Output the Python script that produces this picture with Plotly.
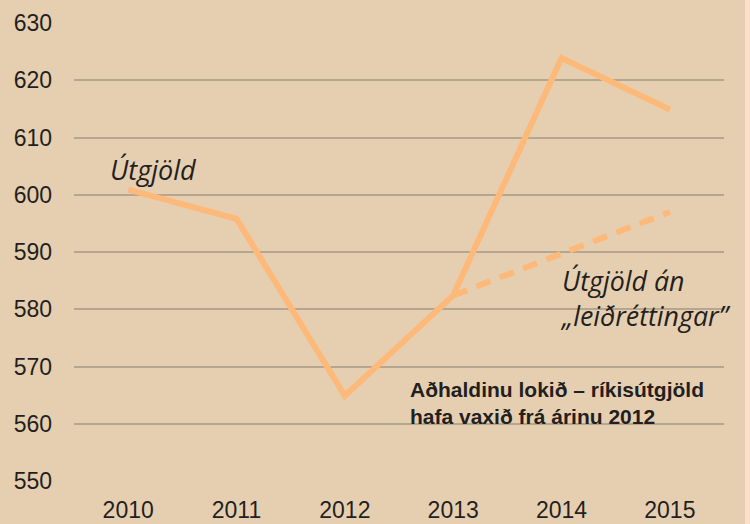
import plotly.graph_objects as go

years = [2010, 2011, 2012, 2013, 2014, 2015]
utgjold = [600.9, 595.8, 564.9, 582.4, 623.9, 614.9]
dash_years = [2013, 2014, 2015]
utgjold_an = [582.4, 589.7, 597.0]
y_ticks = [550, 560, 570, 580, 590, 600, 610, 620, 630]

BG = "#E6CFB1"
STRIP = "#FBDFC9"
LINE = "#FDB97A"
GRID = "#B5A68F"
TXT = "#231F20"

fig = go.Figure()
fig.add_trace(go.Scatter(x=years, y=utgjold, mode="lines",
                         line=dict(color=LINE, width=6), cliponaxis=False,
                         showlegend=False, hoverinfo="skip"))
fig.add_trace(go.Scatter(x=dash_years, y=utgjold_an, mode="lines",
                         line=dict(color=LINE, width=6, dash="15px,10px"),
                         cliponaxis=False, showlegend=False, hoverinfo="skip"))

ital = dict(family="Open Sans", size=26.8, color=TXT, style="italic")
fig.add_annotation(x=2009.81, y=604.4, xref="x", yref="y", text="Útgjöld",
                   showarrow=False, xanchor="left", yanchor="middle",
                   font=dict(family="Open Sans", size=27, color=TXT, style="italic"))
fig.add_annotation(x=2013.965, y=581.9, xref="x", yref="y",
                   text="Útgjöld án<br>„leiðréttingar”", align="left",
                   showarrow=False, xanchor="left", yanchor="middle", font=ital)

bold = dict(family="Liberation Sans, Arial", size=21, color=TXT, weight="bold")
fig.add_annotation(x=2012.58, y=563.6, xref="x", yref="y",
                   text="Aðhaldinu lokið – ríkisútgjöld<br>hafa vaxið frá árinu 2012",
                   align="left", showarrow=False, xanchor="left", yanchor="middle",
                   font=bold)

fig.update_layout(
    width=750, height=524,
    margin=dict(l=74, r=26, t=23, b=43, autoexpand=False),
    paper_bgcolor=BG, plot_bgcolor=BG,
    font=dict(family="Liberation Sans, Arial", size=23, color=TXT),
    xaxis=dict(range=[2009.5, 2015.5], tickvals=years, ticktext=[str(y) for y in years],
               showgrid=False, zeroline=False, showline=False, ticks="",
               ticklabelstandoff=13, fixedrange=True, automargin=False),
    yaxis=dict(range=[550, 630], tickvals=y_ticks, showgrid=True, gridcolor=GRID,
               gridwidth=2, zeroline=False, showline=False, ticks="",
               ticklabelstandoff=21, fixedrange=True, automargin=False),
)

post = (
    "document.body.style.margin='0';document.body.style.padding='0';"
    "document.body.style.overflow='hidden';"
    "document.documentElement.style.overflow='hidden';"
    "document.body.style.background='" + BG + "';"
    "var s=document.createElement('div');"
    "s.style.cssText='position:fixed;left:745px;top:0;width:10px;height:530px;"
    "background:" + STRIP + ";z-index:10;pointer-events:none;';"
    "document.body.appendChild(s);"
)

fig.write_html("out.html", config={"displayModeBar": False}, post_script=post)
